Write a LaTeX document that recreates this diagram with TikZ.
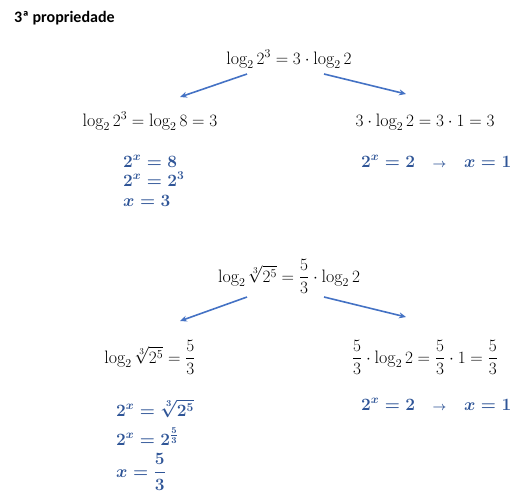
\documentclass[tikz,border=0pt]{standalone}
\usepackage{amsmath}
\usepackage{fontspec}
\newfontfamily\titlefont{Carlito}
\usetikzlibrary{arrows.meta}
\definecolor{solblue}{HTML}{2F5597}
\definecolor{arrblue}{HTML}{4472C4}
\tikzset{
  eq/.style={inner sep=0pt, font=\fontsize{18}{21}\selectfont},
  sol/.style={inner sep=0pt, text=solblue, font=\fontsize{17.5}{20}\selectfont\boldmath},
  arr/.style={draw=arrblue, line width=1.6pt, -{Stealth[length=7pt,width=6pt]}},
  ttl/.style={inner sep=0pt, anchor=base west, font=\fontsize{16}{18}\selectfont\titlefont\bfseries}
}
\begin{document}
\begin{tikzpicture}[x=1pt,y=-1pt]
\useasboundingbox (0,0) rectangle (531,499);
\node[ttl] (title) at (14,22) {3ª propriedade};
% --- part 1
\node[eq, anchor=base] (top1) at (289,64) {$\log_2 2^3 = 3\cdot\log_2 2$};
\node[eq, anchor=base] (l1) at (150,126) {$\log_2 2^3 = \log_2 8 = 3$};
\node[eq, anchor=base] (r1) at (425,126) {$3\cdot\log_2 2 = 3\cdot 1 = 3$};
\node[sol, anchor=base west] (s1a) at (123,167) {$2^x = 8$};
\node[sol, anchor=base west] (s1b) at (123,186) {$2^x = 2^3$};
\node[sol, anchor=base west] (s1c) at (123,206) {$x = 3$};
\node[sol, anchor=base west] (rs1) at (361,167) {$2^x = 2 \quad{\unboldmath\scriptstyle\rightarrow}\quad x = 1$};
\coordinate (a1s) at (247,74);
\coordinate (a1e) at (180,97);
\coordinate (b1s) at (324,74);
\coordinate (b1e) at (406,94);
\draw[arr] (a1s) -- (a1e);
\draw[arr] (b1s) -- (b1e);
% --- part 2
\node[eq, anchor=base] (top2) at (289,282) {$\log_2 \sqrt[3]{2^5} = \dfrac{5}{3}\cdot\log_2 2$};
\node[eq, anchor=base] (l2) at (150,363) {$\log_2 \sqrt[3]{2^5} = \dfrac{5}{3}$};
\node[eq, anchor=base] (r2) at (425,363) {$\dfrac{5}{3}\cdot\log_2 2 = \dfrac{5}{3}\cdot 1 = \dfrac{5}{3}$};
\node[sol, anchor=base west] (s2a) at (116,416) {$2^x = \sqrt[3]{2^5}$};
\node[sol, anchor=base west] (s2b) at (116,445) {$2^x = 2^{\frac{5}{3}}$};
\node[sol, anchor=base west] (s2c) at (116,477) {$x = \dfrac{5}{3}$};
\node[sol, anchor=base west] (rs2) at (361,410) {$2^x = 2 \quad{\unboldmath\scriptstyle\rightarrow}\quad x = 1$};
\coordinate (a2s) at (247,297);
\coordinate (a2e) at (180,321);
\coordinate (b2s) at (324,297);
\coordinate (b2e) at (406,317);
\draw[arr] (a2s) -- (a2e);
\draw[arr] (b2s) -- (b2e);
\end{tikzpicture}
\end{document}
